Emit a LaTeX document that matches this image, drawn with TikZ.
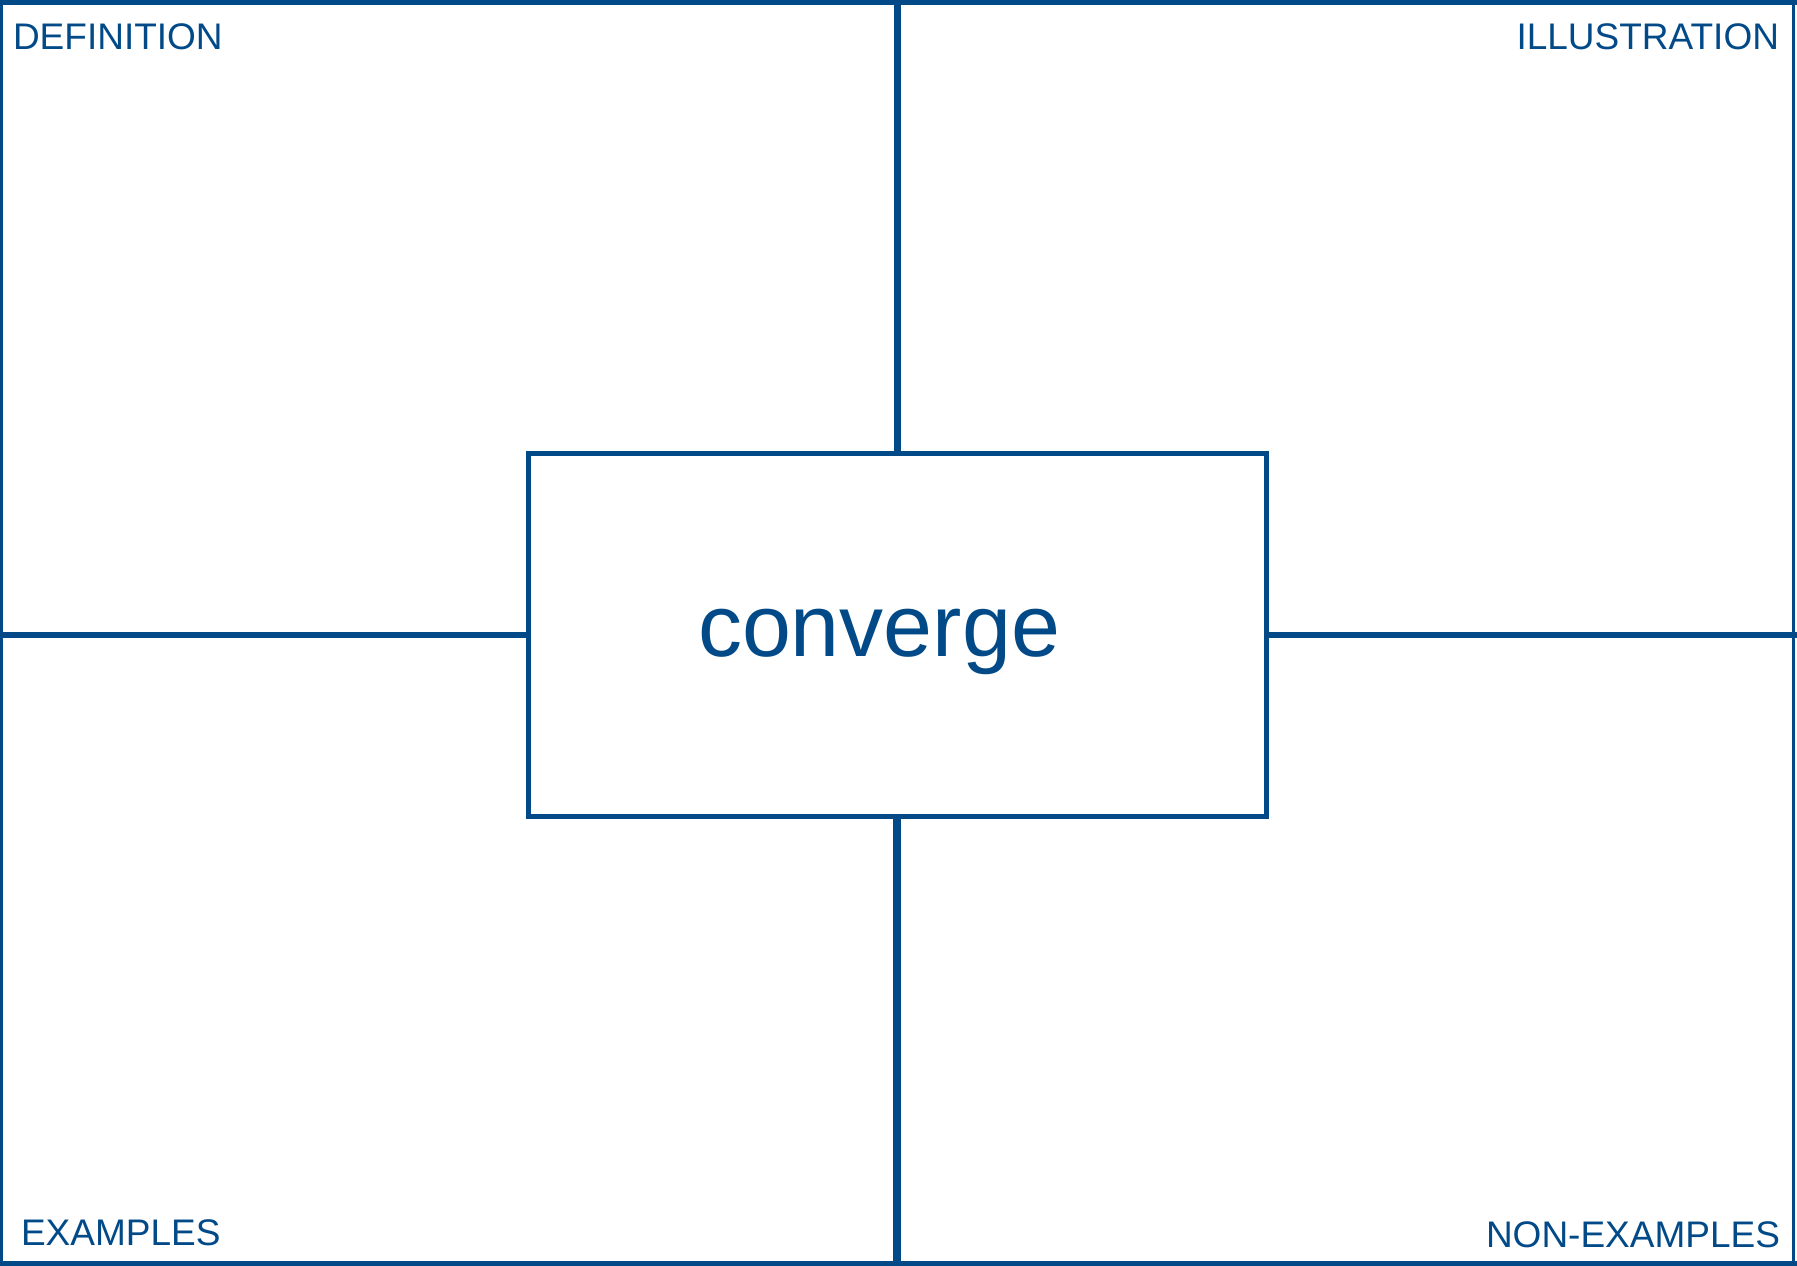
\documentclass[tikz,border=0pt]{standalone}
\usepackage{fontspec}
\setmainfont{Liberation Sans}
\definecolor{fbblue}{RGB}{2,74,135}
\begin{document}
\begin{tikzpicture}[x=1pt,y=-1pt,line cap=butt,
  frame/.style={draw=fbblue},
  divider/.style={draw=fbblue,line width=7.5pt},
  corner/.style={text=fbblue,font=\fontsize{37}{40}\selectfont,inner sep=0pt,outer sep=0pt},
  wordbox/.style={draw=fbblue,line width=5pt,minimum width=738.5pt,minimum height=362.5pt,inner sep=0pt}]
\useasboundingbox (0,0) rectangle (1797,1266);
% outer frame
\draw[frame,line width=5pt] (0,2.5) -- (1797,2.5);
\draw[frame,line width=5pt] (0,1263.5) -- (1797,1263.5);
\draw[frame,line width=3pt] (1.5,0) -- (1.5,1266);
\draw[frame,line width=3.5pt] (1793.5,0) -- (1793.5,1266);
% centre box
\node[wordbox] (box) at (897.25,634.75) {};
\node[text=fbblue,font=\fontsize{88}{96}\selectfont,inner sep=0pt,anchor=base] (word) at (879,656.7) {converge};
% dividers
\coordinate (topmid) at (897.25,0);
\coordinate (botmid) at (897.25,1266);
\coordinate (leftmid) at (0,634.75);
\coordinate (rightmid) at (1797,634.75);
\draw[divider] (box.north) -- (topmid);
\draw[divider,line width=8pt] (box.south) -- (botmid);
\draw[divider,line width=6pt] (box.west) -- (leftmid);
\draw[divider,line width=6pt] (box.east) -- (rightmid);
% corner labels
\node[corner,anchor=base west] (def) at (13,49.3) {DEFINITION};
\node[corner,anchor=base east] (ill) at (1779,49.3) {ILLUSTRATION};
\node[corner,anchor=base west] (ex) at (21,1245) {EXAMPLES};
\node[corner,anchor=base east] (nonex) at (1780,1247.3) {NON-EXAMPLES};
\end{tikzpicture}
\end{document}
